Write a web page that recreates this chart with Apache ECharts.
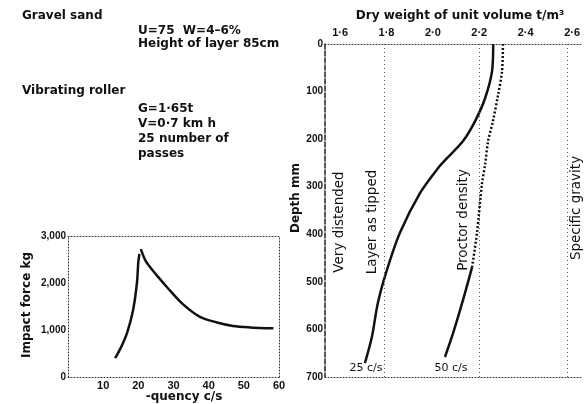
<!DOCTYPE html>
<html>
<head>
<meta charset="utf-8">
<script src="https://cdn.jsdelivr.net/npm/echarts@6/dist/echarts.min.js"></script>
<style>html,body{margin:0;padding:0;background:#fff}#c{width:585px;height:404px}</style>
</head>
<body>
<div id="c"></div>
<script>
// ---- Left chart: impact force vs frequency ----
const freqTicks = [10, 20, 30, 40, 50, 60];
const forceTicks = [0, 1000, 2000, 3000];
const riseFrequency = [13.4, 15.0, 16.8, 18.5, 19.6, 20.0, 20.3];
const riseForce = [400, 620, 940, 1420, 2000, 2450, 2620];
const fallFrequency = [20.7, 22.0, 23.3, 25.5, 28.1, 32.5, 37.5, 42.4, 46.9, 51.7, 58.4];
const fallForce = [2720, 2480, 2340, 2140, 1915, 1560, 1280, 1160, 1085, 1055, 1035];

// ---- Right chart: dry weight of unit volume vs depth ----
const densityTicks = [1.6, 1.8, 2.0, 2.2, 2.4, 2.6];
const depthTicks = [0, 100, 200, 300, 400, 500, 600, 700];
const depth25 = [0, 57, 114, 162, 204, 240, 261, 313, 397, 475, 544, 616, 671];
const density25 = [2.26, 2.255, 2.225, 2.182, 2.13, 2.061, 2.022, 1.945, 1.858, 1.802, 1.763, 1.737, 1.707];
const depth50 = [0, 57, 107, 162, 204, 254, 292, 397, 469, 538, 608, 658];
const density50 = [2.302, 2.298, 2.281, 2.259, 2.238, 2.225, 2.212, 2.19, 2.169, 2.13, 2.087, 2.052];
const referenceDensity = [1.79, 2.2, 2.58];

const zip = (a, b) => a.map((v, i) => [v, b[i]]);
const split50 = depth50.indexOf(469);

const ink = '#111';
const boldFont = 'DejaVu Sans';
const tickStyle = {color: ink, fontFamily: 'Liberation Sans', fontWeight: 'bold', fontSize: 10};
const dotted = {color: '#333', width: 1, type: [1, 2]};

const chart = echarts.init(document.getElementById('c'), null, {renderer: 'canvas'});

function txt(x, y, text, opts) {
  opts = opts || {};
  return {
    type: 'text', x: x, y: y, rotation: opts.rot || 0, silent: true,
    style: {
      text: text, fill: ink,
      font: (opts.weight || 'bold') + ' ' + (opts.size || 12) + 'px "' + (opts.family || boldFont) + '"',
      textAlign: opts.align || 'left', textVerticalAlign: 'middle'
    }
  };
}

chart.setOption({
  animation: false,
  backgroundColor: '#fff',
  grid: [
    {left: 68, top: 236, width: 211, height: 141},
    {left: 325, top: 44, width: 258, height: 333}
  ],
  xAxis: [
    {
      gridIndex: 0, type: 'value', min: 0, max: 60, interval: 10,
      axisLine: {onZero: false, lineStyle: dotted},
      axisTick: {show: false}, splitLine: {show: false},
      axisLabel: Object.assign({}, tickStyle, {fontSize: 11, margin: 3, customValues: freqTicks, formatter: v => String(v)})
    },
    {
      gridIndex: 0, type: 'value', position: 'top', min: 0, max: 60,
      axisLine: {onZero: false, lineStyle: dotted},
      axisTick: {show: false}, axisLabel: {show: false}, splitLine: {show: false}
    },
    {
      gridIndex: 1, type: 'value', position: 'top', min: 1.535, max: 2.647,
      axisLine: {onZero: false, lineStyle: dotted},
      axisTick: {show: false}, splitLine: {show: false},
      axisLabel: Object.assign({}, tickStyle, {fontSize: 11, margin: 6, customValues: densityTicks,
        formatter: v => v.toFixed(1).replace('.', '·')})
    },
    {
      gridIndex: 1, type: 'value', position: 'bottom', min: 1.535, max: 2.647,
      axisLine: {onZero: false, lineStyle: dotted},
      axisTick: {show: false}, axisLabel: {show: false}, splitLine: {show: false}
    }
  ],
  yAxis: [
    {
      gridIndex: 0, type: 'value', min: 0, max: 3000, interval: 1000,
      axisLine: {onZero: false, lineStyle: dotted},
      axisTick: {show: false}, splitLine: {show: false},
      axisLabel: Object.assign({}, tickStyle, {margin: 2, customValues: forceTicks,
        formatter: v => v.toLocaleString('en-US')})
    },
    {
      gridIndex: 0, type: 'value', position: 'right', min: 0, max: 3000,
      axisLine: {onZero: false, lineStyle: dotted},
      axisTick: {show: false}, axisLabel: {show: false}, splitLine: {show: false}
    },
    {
      gridIndex: 1, type: 'value', inverse: true, min: 0, max: 700, interval: 100,
      axisLine: {onZero: false, lineStyle: {color: '#222', width: 1.5, type: [5, 2]}},
      axisTick: {show: false}, splitLine: {show: false},
      axisLabel: Object.assign({}, tickStyle, {margin: 2, customValues: depthTicks})
    }
  ],
  series: [
    {
      type: 'line', xAxisIndex: 0, yAxisIndex: 0, data: zip(riseFrequency, riseForce),
      smooth: 0.3, showSymbol: false, lineStyle: {color: ink, width: 2.5}
    },
    {
      type: 'line', xAxisIndex: 0, yAxisIndex: 0, data: zip(fallFrequency, fallForce),
      smooth: 0.3, showSymbol: false, lineStyle: {color: ink, width: 2.5}
    },
    {
      type: 'line', xAxisIndex: 2, yAxisIndex: 2, data: zip(density25, depth25),
      smooth: 0.3, showSymbol: false, lineStyle: {color: ink, width: 2.5},
      markLine: {
        silent: true, symbol: 'none', label: {show: false},
        lineStyle: {color: '#555', width: 1, type: [1, 3]},
        data: referenceDensity.map(v => ({xAxis: v}))
      }
    },
    {
      type: 'line', xAxisIndex: 2, yAxisIndex: 2,
      data: zip(density50, depth50).slice(0, split50 + 1),
      smooth: 0.3, showSymbol: false, lineStyle: {color: ink, width: 2.5, type: [2, 2]}
    },
    {
      type: 'line', xAxisIndex: 2, yAxisIndex: 2,
      data: zip(density50, depth50).slice(split50),
      smooth: 0.3, showSymbol: false, lineStyle: {color: ink, width: 2.5}
    }
  ],
  graphic: [
    txt(22, 16, 'Gravel sand'),
    txt(138, 31, 'U=75  W=4–6%'),
    txt(138, 44, 'Height of layer 85cm'),
    txt(22, 91, 'Vibrating roller'),
    txt(138, 109, 'G=1·65t'),
    txt(138, 124, 'V=0·7 km h'),
    txt(138, 139, '25 number of'),
    txt(138, 154, 'passes'),
    txt(27, 305, 'Impact force kg', {rot: Math.PI / 2, align: 'center', size: 12}),
    txt(184, 397, '-quency c/s', {align: 'center', size: 12}),
    txt(460, 16, 'Dry weight of unit volume t/m³', {align: 'center', size: 12}),
    txt(296, 198, 'Depth mm', {rot: Math.PI / 2, align: 'center', size: 12}),
    txt(339, 222, 'Very distended', {rot: Math.PI / 2, align: 'center', size: 13.5, weight: 'normal'}),
    txt(372, 222, 'Layer as tipped', {rot: Math.PI / 2, align: 'center', size: 13.5, weight: 'normal'}),
    txt(463, 220, 'Proctor density', {rot: Math.PI / 2, align: 'center', size: 13.5, weight: 'normal'}),
    txt(576, 208, 'Specific gravity', {rot: Math.PI / 2, align: 'center', size: 13.5, weight: 'normal'}),
    txt(366, 368, '25 c/s', {align: 'center', size: 11, weight: 'normal'}),
    txt(451, 368, '50 c/s', {align: 'center', size: 11, weight: 'normal'})
  ]
});
</script>
</body>
</html>
